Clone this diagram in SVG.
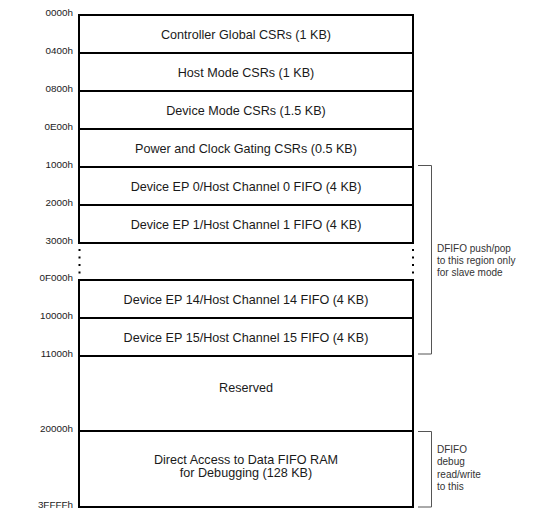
<svg xmlns="http://www.w3.org/2000/svg" width="553" height="524" viewBox="0 0 553 524">
<style>
.row{fill:#fff;stroke:#000;stroke-width:2}
.t{font-family:"Liberation Sans",Arial,sans-serif;font-size:12.6px;fill:#1a1a1a;text-anchor:middle}
.a{font-family:"Liberation Sans",Arial,sans-serif;font-size:9.9px;fill:#1a1a1a;text-anchor:end}
.n{font-family:"Liberation Sans",Arial,sans-serif;font-size:10px;fill:#333}
.br{fill:none;stroke:#555;stroke-width:1}
.dots{stroke:#000;stroke-width:2;stroke-dasharray:2 5.5}
</style>
<rect width="553" height="524" fill="#fff"/>
<g id="global"><rect class="row" x="79" y="15" width="334" height="38"/><text class="t" x="246" y="38.5">Controller Global CSRs (1 KB)</text></g>
<g id="host"><rect class="row" x="79" y="53" width="334" height="38"/><text class="t" x="246" y="76.5">Host Mode CSRs (1 KB)</text></g>
<g id="device"><rect class="row" x="79" y="91" width="334" height="38"/><text class="t" x="246" y="114.5">Device Mode CSRs (1.5 KB)</text></g>
<g id="power"><rect class="row" x="79" y="129" width="334" height="38"/><text class="t" x="246" y="152.5">Power and Clock Gating CSRs (0.5 KB)</text></g>
<g id="ep0"><rect class="row" x="79" y="167" width="334" height="38"/><text class="t" x="246" y="190.5">Device EP 0/Host Channel 0 FIFO (4 KB)</text></g>
<g id="ep1"><rect class="row" x="79" y="205" width="334" height="38"/><text class="t" x="246" y="228.5">Device EP 1/Host Channel 1 FIFO (4 KB)</text></g>
<g id="gap"><line class="dots" x1="79.5" y1="249" x2="79.5" y2="276"/><line class="dots" x1="413" y1="249" x2="413" y2="276"/></g>
<g id="ep14"><rect class="row" x="79" y="280" width="334" height="38"/><text class="t" x="246" y="303.5">Device EP 14/Host Channel 14 FIFO (4 KB)</text></g>
<g id="ep15"><rect class="row" x="79" y="318" width="334" height="38"/><text class="t" x="246" y="341.5">Device EP 15/Host Channel 15 FIFO (4 KB)</text></g>
<g id="reserved"><rect class="row" x="79" y="356" width="334" height="75"/><text class="t" x="246" y="392">Reserved</text></g>
<g id="direct"><rect class="row" x="79" y="431" width="334" height="76"/><text class="t" x="246" y="463.5">Direct Access to Data FIFO RAM</text><text class="t" x="246" y="476.5">for Debugging (128 KB)</text></g>
<g id="addresses">
<text class="a" x="73" y="16">0000h</text>
<text class="a" x="73" y="54">0400h</text>
<text class="a" x="73" y="92">0800h</text>
<text class="a" x="73" y="130">0E00h</text>
<text class="a" x="73" y="168">1000h</text>
<text class="a" x="73" y="206">2000h</text>
<text class="a" x="73" y="244">3000h</text>
<text class="a" x="73" y="281">0F000h</text>
<text class="a" x="73" y="319">10000h</text>
<text class="a" x="73" y="357">11000h</text>
<text class="a" x="73" y="432">20000h</text>
<text class="a" x="73" y="508">3FFFFh</text>
</g>
<g id="connectors">
<path class="br" d="M418 165.5H431.5V354H418"/>
<path class="br" d="M418 431.5H431.5V507H418"/>
</g>
<g id="note-slave"><text class="n" x="437" y="251.5">DFIFO push/pop</text><text class="n" x="437" y="263.5">to this region only</text><text class="n" x="437" y="275.5">for slave mode</text></g>
<g id="note-debug"><text class="n" x="437" y="452.5">DFIFO</text><text class="n" x="437" y="465">debug</text><text class="n" x="437" y="477.5">read/write</text><text class="n" x="437" y="490">to this</text></g>
</svg>
